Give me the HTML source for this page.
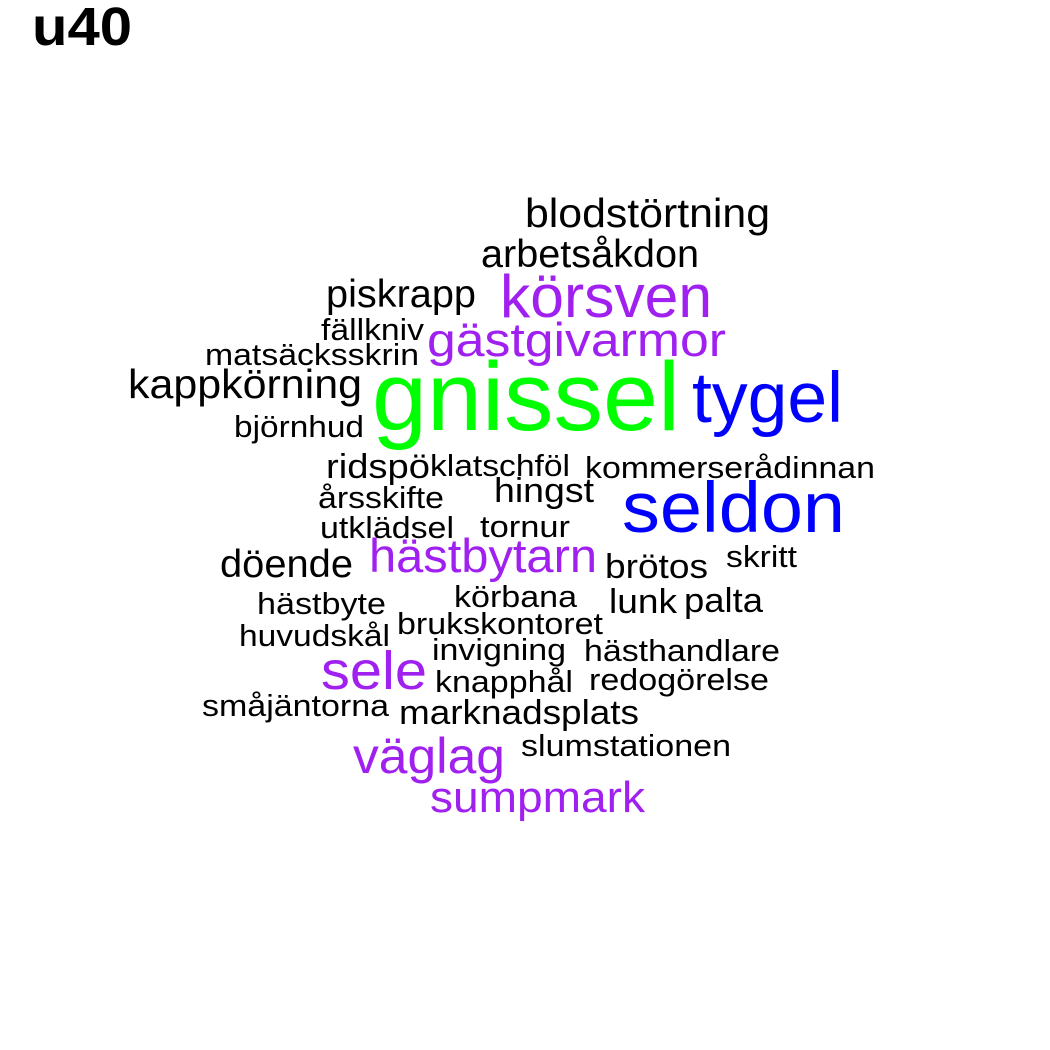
<!DOCTYPE html>
<html>
<head>
<meta charset="utf-8">
<style>
html,body{margin:0;padding:0;background:#fff;}
svg{display:block;}
text{font-family:"Liberation Sans",Arial,sans-serif;}
</style>
</head>
<body>
<svg id="cloud" width="1050" height="1050" viewBox="0 0 1050 1050" xmlns="http://www.w3.org/2000/svg">
<rect width="1050" height="1050" fill="#ffffff"/>
<text x="32" y="45" font-size="54" font-weight="bold" fill="#000" textLength="100" lengthAdjust="spacingAndGlyphs">u40</text>
<g id="words"></g>
</svg>
<script>
const words = ["blodstörtning","arbetsåkdon","körsven","piskrapp","fällkniv","gästgivarmor","matsäcksskrin","kappkörning","gnissel","tygel","björnhud","ridspö","klatschföl","kommerserådinnan","hingst","årsskifte","seldon","utklädsel","tornur","döende","hästbytarn","brötos","skritt","körbana","hästbyte","lunk","palta","brukskontoret","huvudskål","invigning","hästhandlare","sele","knapphål","redogörelse","småjäntorna","marknadsplats","slumstationen","väglag","sumpmark"];
const freqLevel = [1,1,3,1,0,3,0,1,5,4,0,1,0,0,1,0,4,0,0,1,3,1,0,0,0,1,1,0,0,0,0,3,0,0,0,1,0,3,3];
const wordLeft = [525,481,500,326,321,427,205,128,372,692,234,326,430,585,494,318,622,320,480,220,369,605,726,454,257,609,684,397,239,432,584,321,435,589,202,399,521,353,430];
const wordRight = [770,699,712,476,424,726,419,362,680,843,364,430,570,875,594,444,845,454,570,353,597,708,797,577,386,677,763,603,390,566,780,427,573,769,389,639,731,505,645];
const wordBase = [227,267,317,307,340,356,365,398,430,422,437,478,476,478,502,508,532,538,537,577,572,578,567,607,614,613,612,634,646,660,661,689,692,690,716,724,756,773,812];
const wordSize = [38,36,56,36,28,44,28,38,90,66,28,32,28,28,32,28,66,28,28,36,44,32,28,28,28,32,32,28,28,28,28,50,28,28,28,32,28,46,40];
const levelColor = {0:"#000000",1:"#000000",3:"#A020F0",4:"#0000FF",5:"#00FF00"};
const g = document.getElementById('words');
const NS = "http://www.w3.org/2000/svg";
words.forEach((w,i)=>{
  const t = document.createElementNS(NS,'text');
  t.setAttribute('x', wordLeft[i]);
  t.setAttribute('y', wordBase[i]);
  t.setAttribute('font-size', wordSize[i]*1.08);
  t.setAttribute('fill', levelColor[freqLevel[i]]);
  t.setAttribute('textLength', wordRight[i]-wordLeft[i]);
  t.setAttribute('lengthAdjust', 'spacingAndGlyphs');
  t.textContent = w;
  
  
  g.appendChild(t);
});
</script>
</body>
</html>
